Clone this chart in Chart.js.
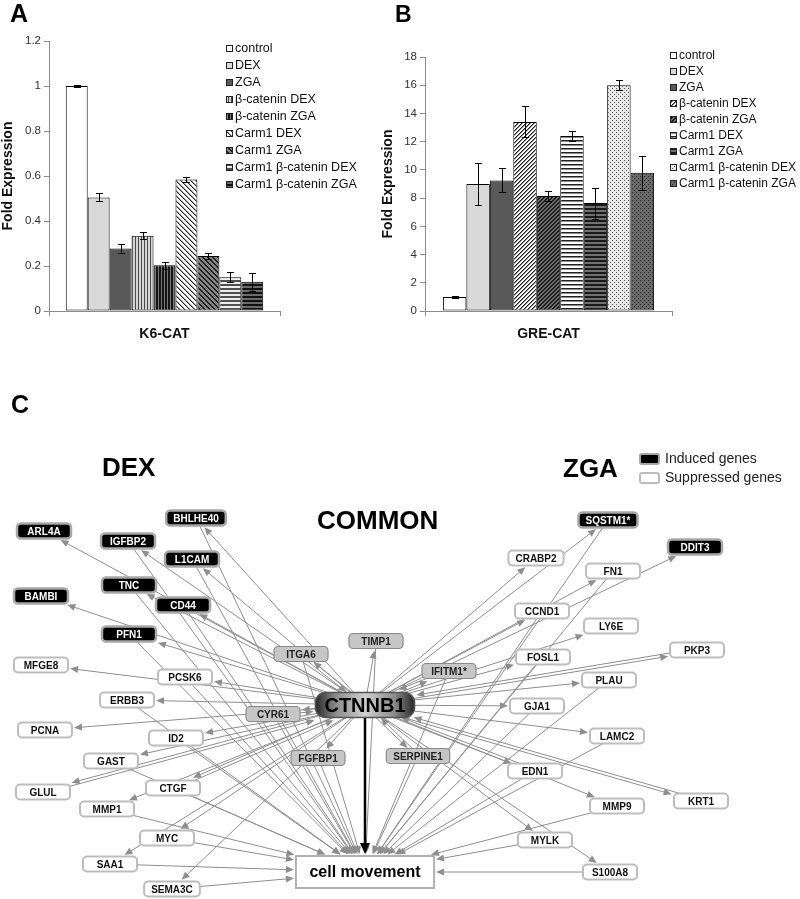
<!DOCTYPE html>
<html>
<head>
<meta charset="utf-8">
<script src="https://cdn.jsdelivr.net/npm/chart.js@4.4.1/dist/chart.umd.min.js"></script>
<style>
  body { margin: 0; background: #fff; width: 800px; height: 899px; overflow: hidden; position: relative;
         font-family: "Liberation Sans", Arial, sans-serif; color: #111; }
  canvas { position: absolute; }
  #chartA { left: 0; top: 0; }
  #chartB { left: 380px; top: 0; }
  #chartC { left: 0; top: 340px; }
  .head { position: absolute; font-weight: bold; line-height: 1; white-space: nowrap; color: #000; }
  .key { position: absolute; font-size: 14px; line-height: 16px; white-space: nowrap; color: #222; }
  .box { position: absolute; width: 17px; height: 8px; border-radius: 3px; }
</style>
</head>
<body>
<canvas id="chartA" width="400" height="345"></canvas>
<canvas id="chartB" width="420" height="345"></canvas>
<canvas id="chartC" width="800" height="559"></canvas>

<div class="head" style="left:10px;top:1px;font-size:25px">A</div>
<div class="head" style="left:395px;top:3px;font-size:23px">B</div>
<div class="head" style="left:11px;top:392px;font-size:25px">C</div>
<div class="head" style="left:102px;top:454px;font-size:26px">DEX</div>
<div class="head" style="left:317px;top:507px;font-size:26px">COMMON</div>
<div class="head" style="left:563px;top:455px;font-size:26px">ZGA</div>

<div class="box" style="left:639px;top:453px;background:#000;border:2px solid #a8a8a8"></div>
<div class="box" style="left:639px;top:472px;background:#fff;border:2px solid #bdbdbd"></div>
<div class="key" style="left:665px;top:450px">Induced genes</div>
<div class="key" style="left:665px;top:469px">Suppressed genes</div>

<script>
// ---- panel A / B data
const seriesNames = ["control", "DEX", "ZGA", "β-catenin DEX", "β-catenin ZGA",
  "Carm1 DEX", "Carm1 ZGA", "Carm1 β-catenin DEX", "Carm1 β-catenin ZGA"];

const k6Labels = ["K6-CAT"];
const k6Values = [1.0, 0.505, 0.278, 0.335, 0.203, 0.585, 0.245, 0.15, 0.13];
const k6Errors = [0.004, 0.018, 0.018, 0.016, 0.016, 0.011, 0.012, 0.022, 0.04];
const k6Ticks = [0, 0.2, 0.4, 0.6, 0.8, 1, 1.2];

const greLabels = ["GRE-CAT"];
const greValues = [1.0, 9.0, 9.25, 13.4, 8.15, 12.4, 7.65, 16.0, 9.8];
const greErrors = [0.06, 1.5, 0.85, 1.1, 0.35, 0.35, 1.1, 0.35, 1.2];
const greTicks = [0, 2, 4, 6, 8, 10, 12, 14, 16, 18];

// ---- panel C data
const nodeNames = ["ARL4A", "BHLHE40", "IGFBP2", "L1CAM", "TNC", "BAMBI", "CD44", "PFN1",
  "MFGE8", "PCSK6", "ERBB3", "PCNA", "ID2", "GAST", "GLUL", "CTGF", "MMP1", "MYC", "SAA1", "SEMA3C",
  "ITGA6", "TIMP1", "CYR61", "FGFBP1", "SERPINE1", "IFITM1*",
  "SQSTM1*", "DDIT3", "CRABP2", "FN1", "CCND1", "LY6E", "PKP3", "FOSL1", "PLAU", "GJA1",
  "LAMC2", "EDN1", "MMP9", "KRT1", "MYLK", "S100A8",
  "CTNNB1", "cell movement"];
const nodeX = [44, 196, 128, 192, 129, 41, 183, 129,
  41, 185, 127, 45, 176, 111, 43, 173, 107, 167, 110, 172,
  301, 376, 273, 318, 418, 449,
  608, 695, 536, 613, 542, 611, 697, 543, 609, 537,
  617, 535, 617, 701, 545, 610,
  365, 365];
const nodeY = [531, 518, 541, 559, 585, 596, 605, 634,
  665, 677, 700, 730, 738, 761, 792, 788, 809, 838, 864, 889,
  654, 641, 714, 758, 756, 671,
  520, 547, 558, 571, 611, 626, 650, 657, 680, 706,
  736, 771, 806, 801, 840, 872,
  705, 872];
const nodeGroup = ["induced", "induced", "induced", "induced", "induced", "induced", "induced", "induced",
  "suppressed", "suppressed", "suppressed", "suppressed", "suppressed", "suppressed", "suppressed",
  "suppressed", "suppressed", "suppressed", "suppressed", "suppressed",
  "common", "common", "common", "common", "common", "common",
  "induced", "induced", "suppressed", "suppressed", "suppressed", "suppressed", "suppressed",
  "suppressed", "suppressed", "suppressed", "suppressed", "suppressed", "suppressed", "suppressed",
  "suppressed", "suppressed",
  "hub", "outcome"];

const hubName = "CTNNB1";
const outcomeName = "cell movement";
const hubTargets = nodeNames.filter((n) => n !== hubName && n !== outcomeName);
const hubSources = ["CYR61", "IFITM1*", "CTGF", "EDN1", "KRT1", "SERPINE1", "PKP3", "ITGA6", "GLUL"];
const movementSources = ["BHLHE40", "L1CAM", "TNC", "CD44", "PFN1", "PCSK6", "IGFBP2", "ERBB3", "ID2",
  "GAST", "CTGF", "MMP1", "MYC", "SAA1", "SEMA3C", "ITGA6", "TIMP1", "CYR61", "FGFBP1", "SERPINE1",
  "IFITM1*", "SQSTM1*", "FN1", "CCND1", "FOSL1", "PLAU", "GJA1", "LAMC2", "EDN1", "MMP9", "MYLK", "S100A8"];

const FONT = '"Liberation Sans", Arial, sans-serif';
Chart.defaults.font.family = FONT;
Chart.defaults.color = "#222";

// small pixel tiles for the Excel-like fills
const tile = (w, h, colorAt) => {
  const c = document.createElement("canvas");
  c.width = w;
  c.height = h;
  const g = c.getContext("2d");
  for (let y = 0; y < h; y++) {
    for (let x = 0; x < w; x++) {
      g.fillStyle = colorAt(x, y);
      g.fillRect(x, y, 1, 1);
    }
  }
  return g.createPattern(c, "repeat");
};

const fillsA = [
  "#ffffff",
  "#d9d9d9",
  "#595959",
  tile(3, 1, (x) => (x === 0 ? "#4a4a4a" : "#d4d4d4")),
  tile(3, 1, (x) => (x === 2 ? "#7a7a7a" : "#141414")),
  tile(5, 5, (x, y) => ((x - y + 5) % 5 === 0 ? "#262626" : (x - y + 5) % 5 === 1 ? "#a0a0a0" : "#ffffff")),
  tile(5, 5, (x, y) => ((x - y + 5) % 5 < 2 ? "#202020" : "#858585")),
  tile(1, 4, (x, y) => (y < 2 ? "#505050" : "#eeeeee")),
  tile(1, 4, (x, y) => (y < 2 ? "#111111" : "#6a6a6a"))
];

const fillsB = [
  "#ffffff",
  "#d9d9d9",
  "#595959",
  tile(4, 4, (x, y) => ((x + y) % 4 === 0 ? "#1e1e1e" : (x + y) % 4 === 1 ? "#8a8a8a" : "#ffffff")),
  tile(4, 4, (x, y) => ((x + y) % 4 < 2 ? "#1c1c1c" : "#6e6e6e")),
  tile(1, 4, (x, y) => (y === 0 ? "#222222" : y === 1 ? "#888888" : "#ffffff")),
  tile(1, 4, (x, y) => (y < 2 ? "#1a1a1a" : "#707070")),
  tile(4, 4, (x, y) => ((x === 0 && y === 0) || (x === 2 && y === 2) ? "#555555" : "#e8e8e8")),
  tile(4, 4, (x, y) => ((x === 0 && y === 0) || (x === 2 && y === 2) ? "#222222" : "#6a6a6a"))
];

const errorBars = {
  id: "errorBars",
  afterDatasetsDraw(chart) {
    const { ctx } = chart;
    const yScale = chart.scales.y;
    ctx.save();
    ctx.strokeStyle = "#000";
    ctx.lineWidth = 1;
    chart.data.datasets.forEach((ds, i) => {
      chart.getDatasetMeta(i).data.forEach((bar, j) => {
        const v = ds.data[j];
        const e = ds.errors[j];
        const x = Math.round(bar.x) + 0.5;
        const top = Math.round(yScale.getPixelForValue(v + e)) + 0.5;
        const bot = Math.round(yScale.getPixelForValue(v - e)) + 0.5;
        ctx.beginPath();
        ctx.moveTo(x, top);
        ctx.lineTo(x, bot);
        ctx.moveTo(x - 3.5, top);
        ctx.lineTo(x + 3.5, top);
        ctx.moveTo(x - 3.5, bot);
        ctx.lineTo(x + 3.5, bot);
        ctx.stroke();
      });
    });
    ctx.restore();
  }
};

const swatchLegend = {
  id: "swatchLegend",
  afterDraw(chart, args, opts) {
    const { ctx } = chart;
    ctx.save();
    ctx.font = `${opts.fontSize}px ${FONT}`;
    ctx.textBaseline = "middle";
    chart.data.datasets.forEach((ds, i) => {
      const cy = Math.round(opts.top + i * opts.step);
      ctx.fillStyle = ds.backgroundColor;
      ctx.fillRect(opts.left, cy - 3, 7, 7);
      ctx.strokeStyle = "#222";
      ctx.lineWidth = 1;
      ctx.strokeRect(opts.left + 0.5, cy - 2.5, 6, 6);
      ctx.fillStyle = "#111";
      ctx.fillText(ds.label, opts.left + 9, cy + 1);
    });
    ctx.restore();
  }
};

const buildBarChart = (id, labels, values, errors, fills, ticks, layout) =>
  new Chart(document.getElementById(id), {
    type: "bar",
    data: {
      labels,
      datasets: seriesNames.map((name, i) => ({
        label: name,
        data: [values[i]],
        errors: [errors[i]],
        backgroundColor: fills[i],
        borderColor: "#000",
        borderWidth: 1,
        borderSkipped: false,
        categoryPercentage: 0.855,
        barPercentage: 1
      }))
    },
    options: {
      responsive: false,
      animation: false,
      events: [],
      layout: { padding: { left: 0, right: layout.right, top: layout.top, bottom: 0 } },
      plugins: {
        legend: { display: false },
        tooltip: { enabled: false },
        swatchLegend: layout.legend
      },
      scales: {
        x: {
          grid: { display: true, drawOnChartArea: false, drawTicks: true, tickLength: 5, color: "#8c8c8c" },
          border: { color: "#8c8c8c" },
          ticks: { font: { size: 14, weight: "bold" }, color: "#111", padding: 10 },
          afterFit: (s) => { s.height = 34; }
        },
        y: {
          min: ticks[0],
          max: ticks[ticks.length - 1],
          afterBuildTicks: (s) => { s.ticks = ticks.map((v) => ({ value: v })); },
          ticks: { font: { size: 11.5 }, color: "#333", padding: 3, callback: (v) => String(v) },
          grid: { drawOnChartArea: false, tickLength: 5, color: "#8c8c8c" },
          border: { color: "#8c8c8c" },
          title: {
            display: true,
            text: "Fold Expression",
            font: { size: 14, weight: "bold", lineHeight: 1.2 },
            color: "#111",
            padding: 0
          },
          afterFit: (s) => { s.width = layout.axisWidth; }
        }
      }
    },
    plugins: [errorBars, swatchLegend]
  });

buildBarChart("chartA", k6Labels, k6Values, k6Errors, fillsA, k6Ticks, {
  right: 120, top: 41, axisWidth: 49,
  legend: { left: 226, top: 48, step: 17, fontSize: 12.5 }
});

buildBarChart("chartB", greLabels, greValues, greErrors, fillsB, greTicks, {
  right: 128, top: 57, axisWidth: 45,
  legend: { left: 290, top: 55, step: 16, fontSize: 12 }
});

// ---- panel C: network drawn over a scatter chart's scales
const groupStyle = {
  induced: { fill: "#000", stroke: "#a8a8a8", lw: 2.5, text: "#fff", font: `bold 10px ${FONT}`, h: 15, r: 4 },
  suppressed: { fill: "#fff", stroke: "#bdbdbd", lw: 2, text: "#111", font: `bold 10px ${FONT}`, h: 15, r: 4 },
  common: { fill: "#c6c6c6", stroke: "#8a8a8a", lw: 1.2, text: "#222", font: `bold 10px ${FONT}`, h: 15, r: 4 },
  hub: { fill: null, stroke: "#555", lw: 1.5, text: "#000", font: `bold 20px ${FONT}`, h: 25, r: 10 },
  outcome: { fill: "#fff", stroke: "#b0b0b0", lw: 2, text: "#000", font: `bold 16px ${FONT}`, h: 32, r: 0 }
};

const roundRectPath = (ctx, x, y, w, h, r) => {
  ctx.beginPath();
  ctx.moveTo(x + r, y);
  ctx.lineTo(x + w - r, y);
  ctx.arcTo(x + w, y, x + w, y + r, r);
  ctx.lineTo(x + w, y + h - r);
  ctx.arcTo(x + w, y + h, x + w - r, y + h, r);
  ctx.lineTo(x + r, y + h);
  ctx.arcTo(x, y + h, x, y + h - r, r);
  ctx.lineTo(x, y + r);
  ctx.arcTo(x, y, x + r, y, r);
  ctx.closePath();
};

const drawEdge = (ctx, a, b, off, color, width, len, half) => {
  const dx = b.x - a.x;
  const dy = b.y - a.y;
  const d = Math.hypot(dx, dy);
  const ux = dx / d;
  const uy = dy / d;
  const ox = -uy * off;
  const oy = ux * off;
  const t = Math.min(b.hw / Math.max(Math.abs(dx), 1e-6), b.hh / Math.max(Math.abs(dy), 1e-6));
  const tipX = b.x + ox - dx * t - ux;
  const tipY = b.y + oy - dy * t - uy;
  ctx.strokeStyle = color;
  ctx.lineWidth = width;
  ctx.beginPath();
  ctx.moveTo(a.x + ox, a.y + oy);
  ctx.lineTo(tipX - ux * len * 0.7, tipY - uy * len * 0.7);
  ctx.stroke();
  ctx.fillStyle = color;
  ctx.beginPath();
  ctx.moveTo(tipX, tipY);
  ctx.lineTo(tipX - ux * len - uy * half, tipY - uy * len + ux * half);
  ctx.lineTo(tipX - ux * len + uy * half, tipY - uy * len - ux * half);
  ctx.closePath();
  ctx.fill();
};

const network = {
  id: "network",
  afterDatasetsDraw(chart) {
    const { ctx } = chart;
    const { x: xs, y: ys } = chart.scales;
    const nodes = {};
    nodeNames.forEach((name, i) => {
      const st = groupStyle[nodeGroup[i]];
      ctx.font = st.font;
      const tw = ctx.measureText(name).width;
      let w = Math.max(54, tw + 14);
      if (nodeGroup[i] === "hub") w = tw + 18;
      if (nodeGroup[i] === "outcome") w = tw + 27;
      nodes[name] = {
        name, st, w,
        x: xs.getPixelForValue(nodeX[i]),
        y: ys.getPixelForValue(nodeY[i]),
        hw: w / 2 + 1,
        hh: st.h / 2 + 1
      };
    });

    ctx.save();
    const hubOut = new Set(hubTargets);
    const hubIn = new Set(hubSources);
    hubTargets.forEach((g) => {
      drawEdge(ctx, nodes[hubName], nodes[g], hubIn.has(g) ? 1.5 : 0, "#8e8e8e", 1, 8, 3.5);
    });
    hubSources.forEach((g) => {
      drawEdge(ctx, nodes[g], nodes[hubName], hubOut.has(g) ? 1.5 : 0, "#8e8e8e", 1, 8, 3.5);
    });
    movementSources.forEach((g) => {
      drawEdge(ctx, nodes[g], nodes[outcomeName], 0, "#8e8e8e", 1, 8, 3.5);
    });
    drawEdge(ctx, nodes[hubName], nodes[outcomeName], 0, "#000", 2.5, 11, 5);

    Object.values(nodes).forEach((n) => {
      const { st } = n;
      const left = n.x - n.w / 2;
      const top = n.y - st.h / 2;
      roundRectPath(ctx, left, top, n.w, st.h, st.r);
      if (st.fill) {
        ctx.fillStyle = st.fill;
      } else {
        const grad = ctx.createLinearGradient(left, 0, left + n.w, 0);
        grad.addColorStop(0, "#262626");
        grad.addColorStop(0.2, "#8a8a8a");
        grad.addColorStop(0.5, "#cfcfcf");
        grad.addColorStop(0.8, "#8a8a8a");
        grad.addColorStop(1, "#262626");
        ctx.fillStyle = grad;
      }
      ctx.fill();
      ctx.strokeStyle = st.stroke;
      ctx.lineWidth = st.lw;
      ctx.stroke();
      ctx.font = st.font;
      ctx.fillStyle = st.text;
      ctx.textAlign = "center";
      ctx.textBaseline = "middle";
      ctx.fillText(n.name, n.x, n.y + 1);
    });
    ctx.restore();
  }
};

new Chart(document.getElementById("chartC"), {
  type: "scatter",
  data: {
    datasets: [{
      data: nodeNames.map((n, i) => ({ x: nodeX[i], y: nodeY[i] })),
      pointRadius: 0,
      pointHoverRadius: 0
    }]
  },
  options: {
    responsive: false,
    animation: false,
    events: [],
    layout: { padding: 0 },
    plugins: { legend: { display: false }, tooltip: { enabled: false } },
    scales: {
      x: { type: "linear", min: 0, max: 800, display: false },
      y: { type: "linear", min: 340, max: 899, reverse: true, display: false }
    }
  },
  plugins: [network]
});
</script>
</body>
</html>
